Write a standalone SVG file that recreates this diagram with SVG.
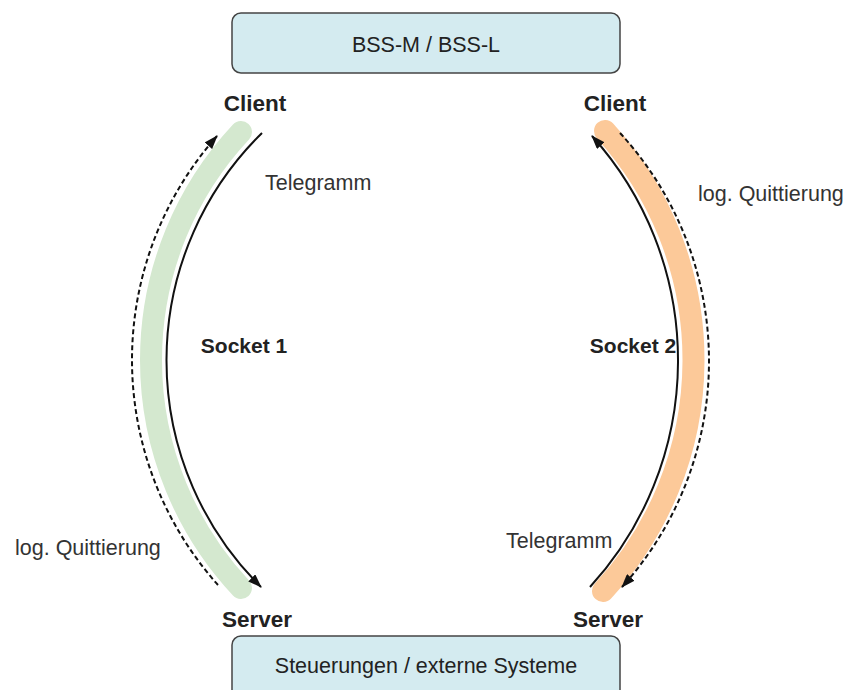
<svg xmlns="http://www.w3.org/2000/svg" width="862" height="690" viewBox="0 0 862 690">
<style>
.box{fill:#d4ebf0;stroke:#444;stroke-width:1.5}
.bt{font-family:"Liberation Sans",Arial,sans-serif;font-size:21.5px;fill:#222;text-anchor:middle}
.lbl{font-family:"Liberation Sans",Arial,sans-serif;font-size:21.5px;fill:#333}
.bold{font-family:"Liberation Sans",Arial,sans-serif;font-size:21px;font-weight:bold;fill:#222;text-anchor:middle}
.end{font-size:22.5px}
.band{fill:none;stroke-width:22;stroke-linecap:round}
.solid{fill:none;stroke:#111;stroke-width:2;marker-end:url(#ah)}
.dash{fill:none;stroke:#111;stroke-width:2;stroke-dasharray:5 3;marker-end:url(#ah)}
</style>
<defs>
<marker id="ah" markerUnits="userSpaceOnUse" markerWidth="14" markerHeight="10" refX="13" refY="5" orient="auto">
<path d="M0,0 L14,5 L0,10 z" fill="#111"/>
</marker>
</defs>
<g id="bss">
<rect class="box" x="232" y="13" width="388" height="60" rx="9"/>
<text class="bt" x="426" y="52">BSS-M / BSS-L</text>
</g>
<g id="steuerungen">
<rect class="box" x="232" y="636" width="388" height="70" rx="9"/>
<text class="bt" x="426" y="673">Steuerungen / externe Systeme</text>
</g>
<g id="bands">
<path class="band" stroke="#d4e8cf" d="M241,132 A333.8,333.8 0 0 0 241,588"/>
<path class="band" stroke="#fcc999" d="M605,131 A340.3,340.3 0 0 1 603,591"/>
</g>
<g id="connectors">
<path class="solid" d="M262,133 A318.7,318.7 0 0 0 261,587"/>
<path class="dash" d="M218,585 A337.5,337.5 0 0 1 217,136"/>
<path class="solid" d="M590,587 A335.7,335.7 0 0 0 592,136"/>
<path class="dash" d="M620,133 A336.8,336.8 0 0 1 622,587"/>
</g>
<g id="client1"><text class="bold end" x="255" y="111">Client</text></g>
<g id="server1"><text class="bold end" x="257" y="627">Server</text></g>
<g id="client2"><text class="bold end" x="615" y="111">Client</text></g>
<g id="server2"><text class="bold end" x="608" y="627">Server</text></g>
<g id="labels">
<text class="bold" x="244" y="353">Socket 1</text>
<text class="bold" x="633" y="353">Socket 2</text>
<text class="lbl" x="265" y="190">Telegramm</text>
<text class="lbl" x="15" y="555">log. Quittierung</text>
<text class="lbl" x="698" y="201">log. Quittierung</text>
<text class="lbl" x="506" y="548">Telegramm</text>
</g>
</svg>
